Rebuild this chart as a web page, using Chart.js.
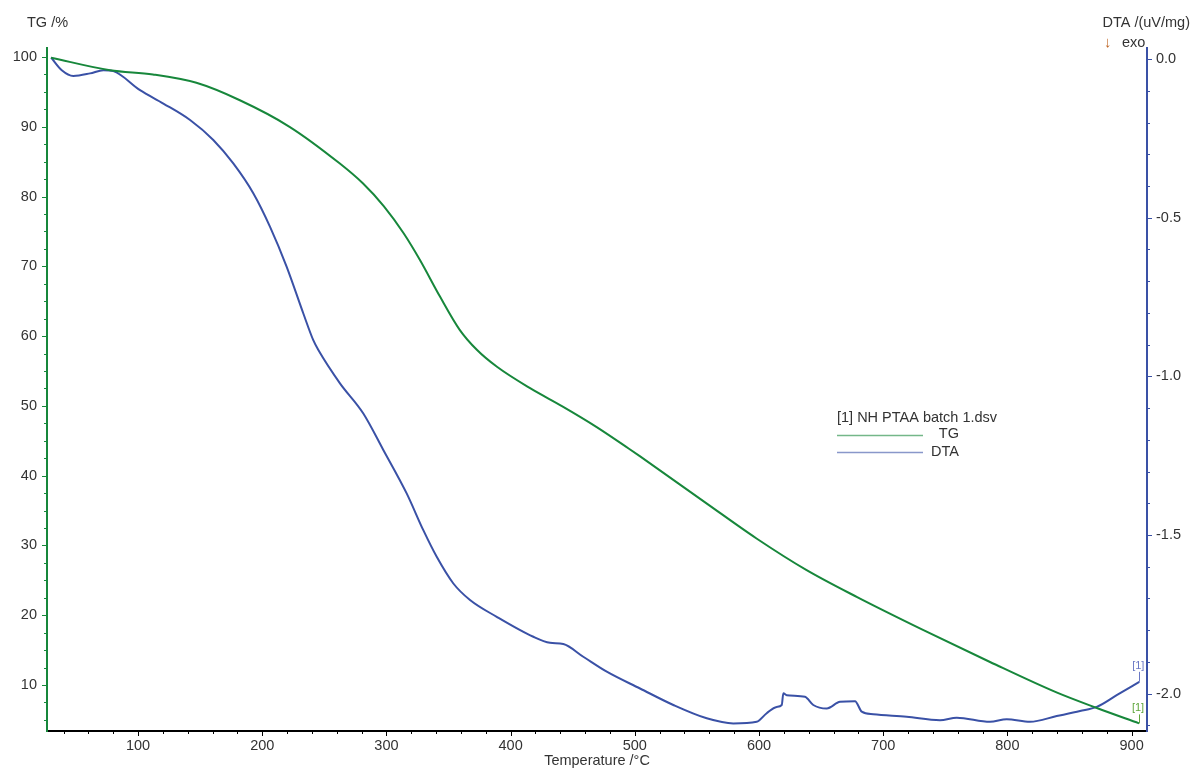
<!DOCTYPE html>
<html>
<head>
<meta charset="utf-8">
<script src="https://cdn.jsdelivr.net/npm/chart.js@4.4.1/dist/chart.umd.min.js"></script>
<style>
  html, body { margin: 0; padding: 0; background: #fff; }
  #wrap { width: 1195px; height: 772px; position: relative; }
</style>
</head>
<body>
<div id="wrap"><canvas id="tga"></canvas></div>
<script>
// TG curve
var tgTemp = [30, 77.5, 112, 147, 182, 222, 262, 281, 298, 314, 327, 343, 359, 373, 389, 416, 442, 469, 495, 504, 558, 598, 638, 679, 732, 786, 840, 872, 906];
var tgValues = [99.9, 98.1, 97.5, 96.3, 93.8, 90.0, 84.8, 81.9, 78.6, 74.7, 70.9, 65.7, 60.9, 58.0, 55.6, 52.5, 49.9, 47.0, 43.9, 42.8, 36.0, 31.0, 26.5, 22.6, 17.9, 13.3, 8.9, 6.7, 4.5];

// DTA curve
var dtaTemp = [30, 38.6, 47.9, 61.4, 72.1, 80.1, 101.6, 120.4, 141.9, 160.6, 176.7, 192.8, 206.3, 219.7, 233.1, 241.1, 245.2, 262.6, 281.4, 297.5, 316.3, 329.7, 340.5, 353.9, 367.3, 388.8, 418.3, 431.7, 442.4, 458.5, 477.4, 504.2, 531, 557.9, 579.3, 598.1, 606.2, 614.2, 618.3, 619.6, 622.3, 637, 643.7, 654.5, 665.2, 677.3, 682.7, 692, 718.9, 745.7, 759.2, 786, 799.4, 818.2, 839.7, 858.5, 871.9, 888, 906.2];
var dtaValues = [0.005, -0.035, -0.053, -0.045, -0.035, -0.038, -0.098, -0.140, -0.192, -0.255, -0.329, -0.423, -0.529, -0.655, -0.802, -0.886, -0.917, -1.022, -1.117, -1.232, -1.369, -1.485, -1.569, -1.653, -1.705, -1.758, -1.821, -1.840, -1.844, -1.884, -1.931, -1.984, -2.036, -2.078, -2.094, -2.089, -2.062, -2.042, -2.036, -1.999, -2.005, -2.010, -2.036, -2.047, -2.026, -2.024, -2.057, -2.065, -2.073, -2.084, -2.076, -2.089, -2.081, -2.089, -2.071, -2.055, -2.042, -2.005, -1.963];

var green = '#17873b';
var blue = '#3a51a6';
var font = '"Liberation Sans", Arial, sans-serif';

function toPoints(xs, ys) {
  return xs.map(function (x, i) { return { x: x, y: ys[i] }; });
}

// minor ticks, titles, legend and the [1] end markers
var extras = {
  id: 'extras',
  afterDraw: function (chart) {
    var ctx = chart.ctx;
    var x = chart.scales.x, yl = chart.scales.yTG, yr = chart.scales.yDTA;
    var a = chart.chartArea;
    ctx.save();
    ctx.lineWidth = 1;

    ctx.strokeStyle = '#000';
    for (var t = 40; t <= 900; t += 20) {
      var px = Math.round(x.getPixelForValue(t)) + 0.5;
      var len = t % 100 === 0 ? 5 : 3;
      ctx.beginPath(); ctx.moveTo(px, a.bottom); ctx.lineTo(px, a.bottom + len); ctx.stroke();
    }
    ctx.strokeStyle = green;
    for (var v = 5; v <= 100; v += 2.5) {
      var py = Math.round(yl.getPixelForValue(v)) + 0.5;
      var l = v % 10 === 0 ? 5 : 3;
      ctx.beginPath(); ctx.moveTo(a.left - l, py); ctx.lineTo(a.left, py); ctx.stroke();
    }
    ctx.strokeStyle = blue;
    for (var k = -21; k <= 0; k++) {
      var py2 = Math.round(yr.getPixelForValue(k / 10)) + 0.5;
      var l2 = k % 5 === 0 ? 5 : 3;
      ctx.beginPath(); ctx.moveTo(a.right, py2); ctx.lineTo(a.right + l2, py2); ctx.stroke();
    }

    ctx.fillStyle = '#333';
    ctx.font = '14.5px ' + font;
    ctx.textBaseline = 'middle';
    ctx.textAlign = 'left';
    ctx.fillText('TG /%', 27, 23);
    ctx.textAlign = 'right';
    ctx.fillText('DTA /(uV/mg)', 1190, 23);
    ctx.textAlign = 'left';
    ctx.fillText('exo', 1122, 43);
    ctx.fillStyle = '#c0692a';
    ctx.font = '15px ' + font;
    ctx.fillText('\u2193', 1104, 43);
    ctx.fillStyle = '#333';
    ctx.font = '14.5px ' + font;
    ctx.textAlign = 'center';
    ctx.fillText('Temperature /\u00B0C', 597, 761);

    // legend
    ctx.textAlign = 'left';
    ctx.fillText('[1] NH PTAA batch 1.dsv', 837, 418);
    ctx.textAlign = 'right';
    ctx.fillText('TG', 959, 434);
    ctx.fillText('DTA', 959, 452);
    ctx.lineWidth = 1.5;
    ctx.strokeStyle = 'rgba(23,135,59,0.6)';
    ctx.beginPath(); ctx.moveTo(837, 435.5); ctx.lineTo(923, 435.5); ctx.stroke();
    ctx.strokeStyle = 'rgba(58,81,166,0.6)';
    ctx.beginPath(); ctx.moveTo(837, 452.5); ctx.lineTo(923, 452.5); ctx.stroke();

    // end markers
    var gx = x.getPixelForValue(tgTemp[tgTemp.length - 1]), gy = yl.getPixelForValue(tgValues[tgValues.length - 1]);
    var bx = x.getPixelForValue(dtaTemp[dtaTemp.length - 1]), by = yr.getPixelForValue(dtaValues[dtaValues.length - 1]);
    ctx.lineWidth = 1;
    ctx.font = '11px ' + font;
    ctx.textAlign = 'center';
    ctx.strokeStyle = '#6a78c4';
    ctx.fillStyle = '#6a78c4';
    ctx.beginPath(); ctx.moveTo(Math.round(bx) + 0.5, by - 10); ctx.lineTo(Math.round(bx) + 0.5, by); ctx.stroke();
    ctx.fillText('[1]', bx - 1, by - 16);
    ctx.strokeStyle = '#5fa63c';
    ctx.fillStyle = '#5fa63c';
    ctx.beginPath(); ctx.moveTo(Math.round(gx) + 0.5, gy - 9); ctx.lineTo(Math.round(gx) + 0.5, gy); ctx.stroke();
    ctx.fillText('[1]', gx - 1, gy - 15);
    ctx.restore();
  }
};

var tgaChart = new Chart(document.getElementById('tga'), {
  type: 'line',
  data: {
    datasets: [{
      label: 'TG',
      data: toPoints(tgTemp, tgValues),
      yAxisID: 'yTG',
      borderColor: green,
      borderWidth: 2,
      pointRadius: 0,
      cubicInterpolationMode: 'monotone'
    }, {
      label: 'DTA',
      data: toPoints(dtaTemp, dtaValues),
      yAxisID: 'yDTA',
      borderColor: blue,
      borderWidth: 2,
      pointRadius: 0,
      cubicInterpolationMode: 'monotone'
    }]
  },
  options: {
    responsive: true,
    maintainAspectRatio: false,
    animation: false,
    layout: { padding: { top: 48, left: 0, right: 0, bottom: 0 } },
    plugins: {
      legend: { display: false },
      tooltip: { enabled: false }
    },
    scales: {
      x: {
        type: 'linear',
        min: 26.7,
        max: 912.4,
        grid: { display: false, drawTicks: false },
        border: { display: true, color: '#000', width: 2 },
        ticks: { stepSize: 100, includeBounds: false, padding: 6, color: '#333', font: { size: 14.5, family: font } },
        afterFit: function (s) { s.height = 41; }
      },
      yTG: {
        type: 'linear',
        position: 'left',
        min: 3.41,
        max: 101.29,
        grid: { display: false, drawTicks: false },
        border: { display: true, color: green, width: 2 },
        ticks: { stepSize: 10, includeBounds: false, padding: 10, color: '#333', font: { size: 14.5, family: font } },
        afterFit: function (s) { s.width = 47; }
      },
      yDTA: {
        type: 'linear',
        position: 'right',
        min: -2.118,
        max: 0.035,
        grid: { display: false, drawTicks: false },
        border: { display: true, color: blue, width: 2 },
        ticks: {
          stepSize: 0.5,
          includeBounds: false,
          padding: 9,
          color: '#333',
          font: { size: 14.5, family: font },
          callback: function (v) { return v.toFixed(1); }
        },
        afterFit: function (s) { s.width = 48; }
      }
    }
  },
  plugins: [extras]
});
</script>
</body>
</html>
